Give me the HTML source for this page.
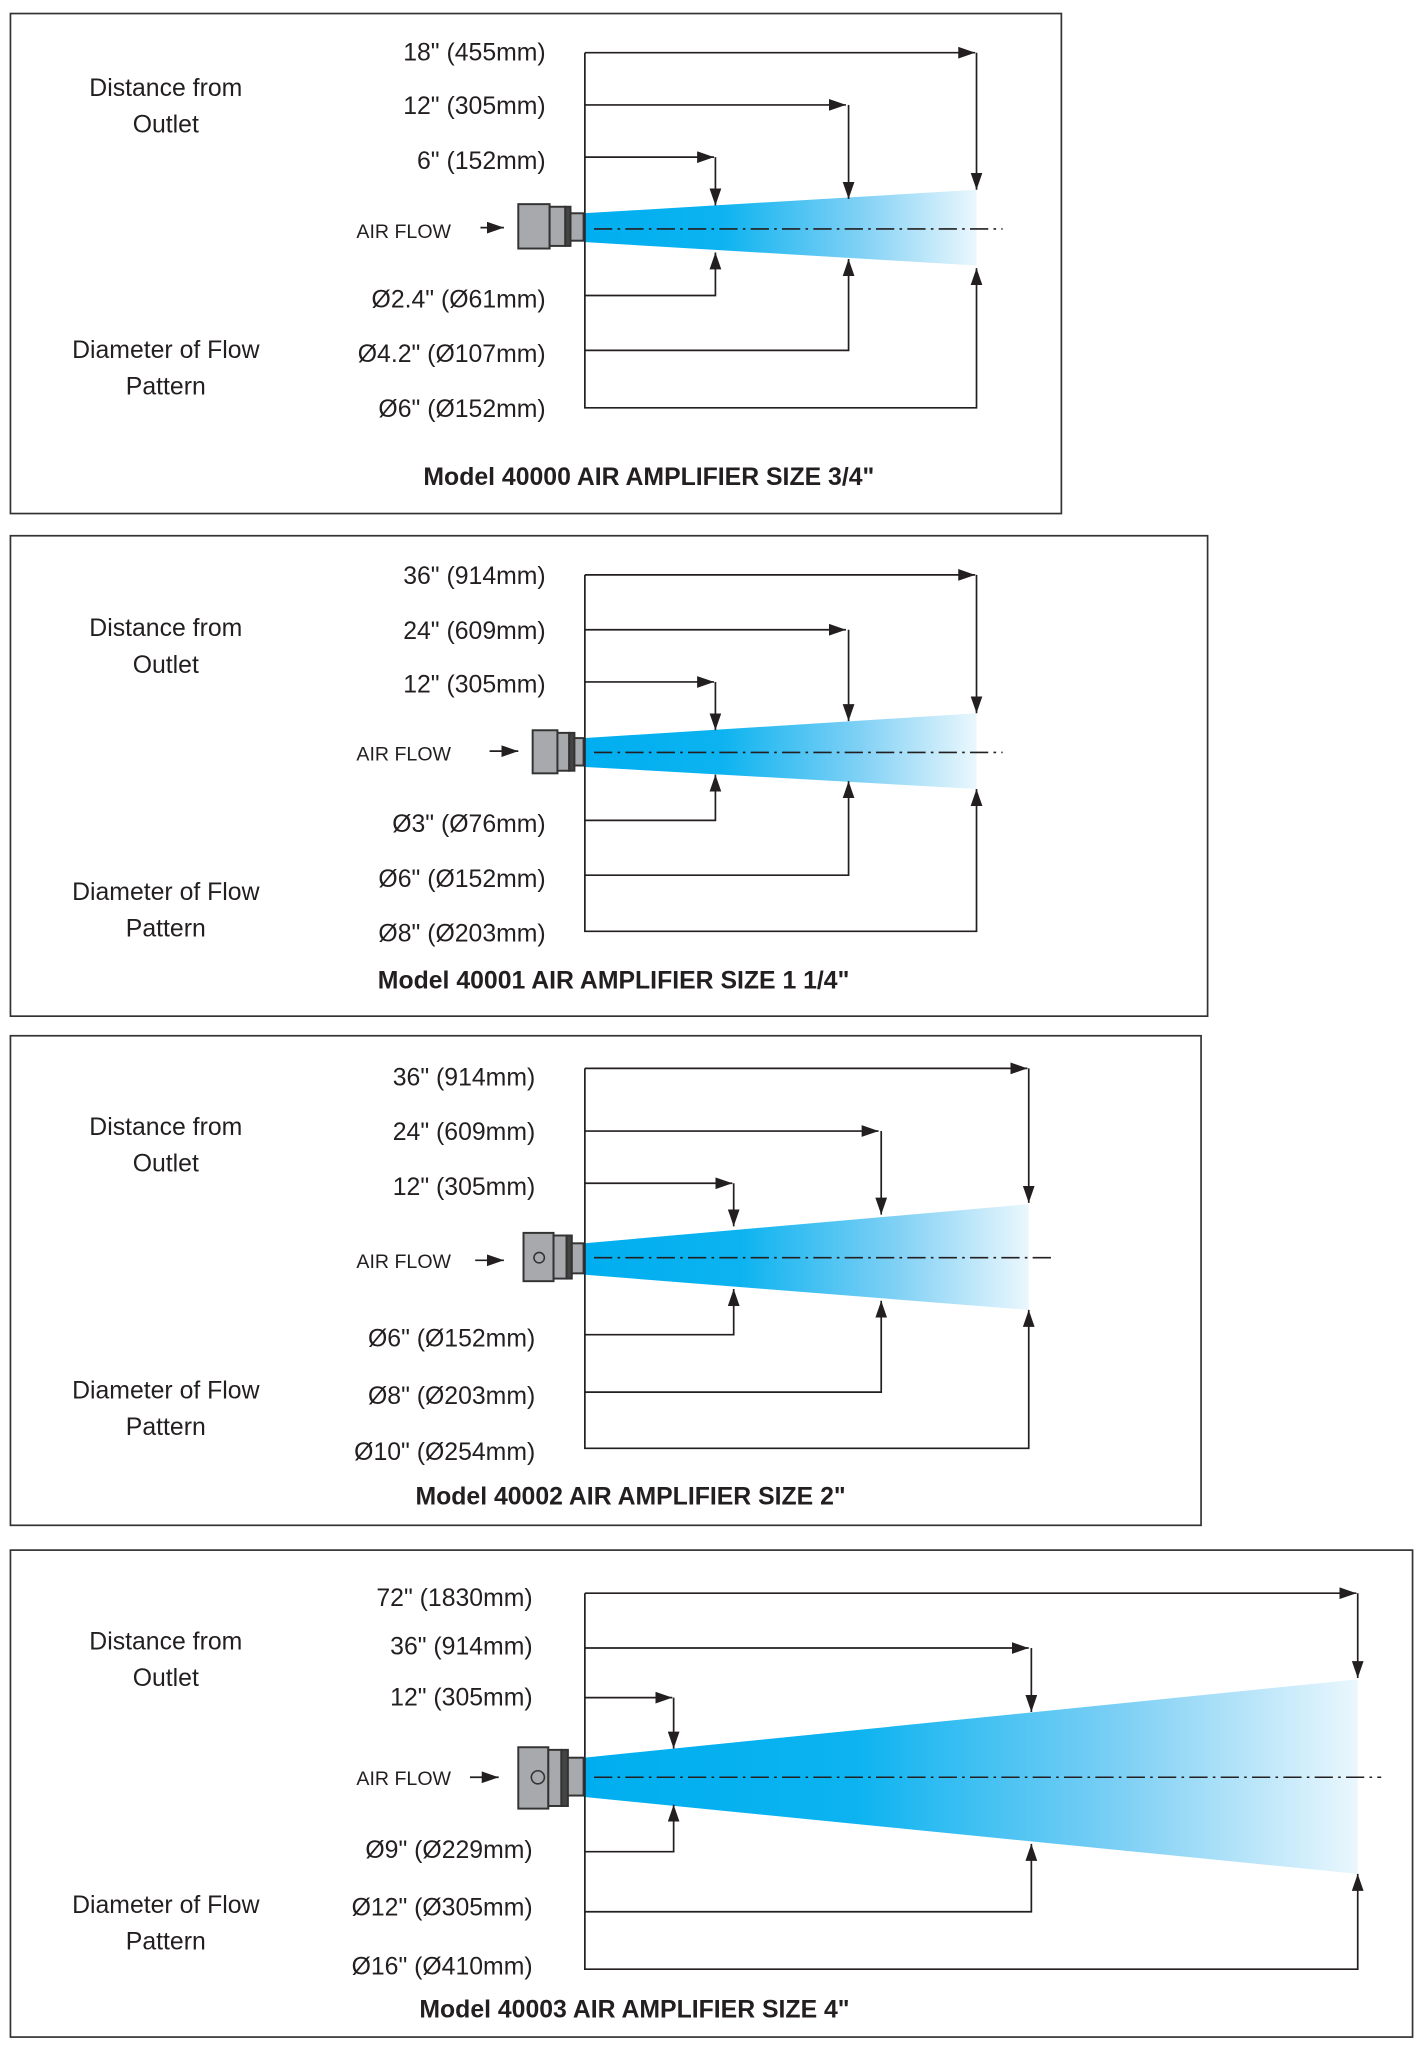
<!DOCTYPE html>
<html><head><meta charset="utf-8"><style>html,body{margin:0;padding:0;background:#fff}svg{display:block}</style></head>
<body>
<svg width="1423" height="2048" viewBox="0 0 1090 1568" xmlns="http://www.w3.org/2000/svg" font-family="Liberation Sans, sans-serif" fill="#231f20">
<defs>
<marker id="a" markerUnits="userSpaceOnUse" markerWidth="13" markerHeight="9" refX="13" refY="4.5" orient="auto"><path d="M0,0 L13,4.5 L0,9 z" fill="#231f20"/></marker>
<linearGradient id="g" x1="0" y1="0" x2="1" y2="0"><stop offset="0" stop-color="#00aeef"/><stop offset="0.35" stop-color="#0cb3f0"/><stop offset="0.7" stop-color="#7fd0f5"/><stop offset="1" stop-color="#eaf7fd"/></linearGradient>
</defs>
<g fill="none" stroke="#333" stroke-width="1.3">
<rect x="8" y="10" width="805" height="383"/>
<rect x="8" y="410" width="917" height="368"/>
<rect x="8" y="793" width="912" height="375"/>
<rect x="8" y="1187" width="1074" height="373"/>
</g>
<!-- beams -->
<polygon points="447,163 748,145 748,203 447,185" fill="url(#g)"/>
<polygon points="447,565 748,546 748,604 447,587" fill="url(#g)"/>
<polygon points="447,952 788,922 788,1003 447,976" fill="url(#g)"/>
<polygon points="447,1346 1040,1286 1040,1435 447,1376" fill="url(#g)"/>
<!-- centerlines -->
<g stroke="#231f20" stroke-width="1.2" stroke-dasharray="14,4,2,4" fill="none">
<path d="M455 175 H768"/><path d="M455 576 H768"/><path d="M455 963 H808"/><path d="M455 1361 H1058"/>
</g>
<!-- dimension lines -->
<g stroke="#231f20" stroke-width="1.3" fill="none">
<path d="M448 40 V312 H748 V205" marker-end="url(#a)"/>
<path d="M448 40 H747" marker-end="url(#a)"/><path d="M748 40 V145" marker-end="url(#a)"/>
<path d="M448 80 H648" marker-end="url(#a)"/><path d="M650 80 V152" marker-end="url(#a)"/>
<path d="M448 120 H547" marker-end="url(#a)"/><path d="M548 120 V157" marker-end="url(#a)"/>
<path d="M448 226 H548 V193" marker-end="url(#a)"/>
<path d="M448 268 H650 V198" marker-end="url(#a)"/>

<path d="M448 440 V713 H748 V604" marker-end="url(#a)"/>
<path d="M448 440 H747" marker-end="url(#a)"/><path d="M748 440 V546" marker-end="url(#a)"/>
<path d="M448 482 H648" marker-end="url(#a)"/><path d="M650 482 V552" marker-end="url(#a)"/>
<path d="M448 522 H547" marker-end="url(#a)"/><path d="M548 522 V559" marker-end="url(#a)"/>
<path d="M448 628 H548 V593" marker-end="url(#a)"/>
<path d="M448 670 H650 V598" marker-end="url(#a)"/>

<path d="M448 818 V1109 H788 V1003" marker-end="url(#a)"/>
<path d="M448 818 H787" marker-end="url(#a)"/><path d="M788 818 V921" marker-end="url(#a)"/>
<path d="M448 866 H673" marker-end="url(#a)"/><path d="M675 866 V930" marker-end="url(#a)"/>
<path d="M448 906 H561" marker-end="url(#a)"/><path d="M562 906 V939" marker-end="url(#a)"/>
<path d="M448 1022 H562 V987" marker-end="url(#a)"/>
<path d="M448 1066 H675 V996" marker-end="url(#a)"/>

<path d="M448 1220 V1508 H1040 V1435" marker-end="url(#a)"/>
<path d="M448 1220 H1039" marker-end="url(#a)"/><path d="M1040 1220 V1285" marker-end="url(#a)"/>
<path d="M448 1262 H788" marker-end="url(#a)"/><path d="M790 1262 V1311" marker-end="url(#a)"/>
<path d="M448 1300 H515" marker-end="url(#a)"/><path d="M516 1300 V1339" marker-end="url(#a)"/>
<path d="M448 1418 H516 V1382" marker-end="url(#a)"/>
<path d="M448 1464 H790 V1412" marker-end="url(#a)"/>

<path d="M368 174 H386" marker-end="url(#a)"/>
<path d="M375 575 H397" marker-end="url(#a)"/>
<path d="M364 965 H386" marker-end="url(#a)"/>
<path d="M360 1361 H382" marker-end="url(#a)"/>
</g>
<!-- nozzles -->
<g stroke="#333" stroke-width="1.5" fill="#a7a9ac">
<rect x="397" y="156" width="24" height="34"/><rect x="421" y="158" width="12" height="30"/><rect x="433" y="158" width="4" height="30" fill="#444"/><rect x="437" y="163" width="10" height="21"/>
<rect x="408" y="559" width="19" height="33"/><rect x="427" y="561" width="9" height="29"/><rect x="436" y="561" width="4" height="29" fill="#444"/><rect x="440" y="565" width="7" height="21"/>
<rect x="401" y="944" width="23" height="37"/><rect x="424" y="946" width="10" height="33"/><rect x="434" y="946" width="4" height="33" fill="#444"/><rect x="438" y="952" width="9" height="23"/>
<rect x="397" y="1338" width="23" height="47"/><rect x="420" y="1340" width="10" height="43"/><rect x="430" y="1340" width="5" height="43" fill="#444"/><rect x="435" y="1346" width="12" height="29"/>
</g>
<g stroke="#333" stroke-width="1.2" fill="none">
<circle cx="413" cy="963" r="4"/><circle cx="412" cy="1361" r="5"/>
</g>
<!-- texts -->
<g font-size="19" text-anchor="end">
<text x="418" y="46">18" (455mm)</text><text x="418" y="87">12" (305mm)</text><text x="418" y="129">6" (152mm)</text>
<text x="418" y="235">Ø2.4" (Ø61mm)</text><text x="418" y="277">Ø4.2" (Ø107mm)</text><text x="418" y="319">Ø6" (Ø152mm)</text>
<text x="418" y="447">36" (914mm)</text><text x="418" y="489">24" (609mm)</text><text x="418" y="530">12" (305mm)</text>
<text x="418" y="637">Ø3" (Ø76mm)</text><text x="418" y="679">Ø6" (Ø152mm)</text><text x="418" y="721">Ø8" (Ø203mm)</text>
<text x="410" y="831">36" (914mm)</text><text x="410" y="873">24" (609mm)</text><text x="410" y="915">12" (305mm)</text>
<text x="410" y="1031">Ø6" (Ø152mm)</text><text x="410" y="1075">Ø8" (Ø203mm)</text><text x="410" y="1118">Ø10" (Ø254mm)</text>
<text x="408" y="1230">72" (1830mm)</text><text x="408" y="1267">36" (914mm)</text><text x="408" y="1306">12" (305mm)</text>
<text x="408" y="1423">Ø9" (Ø229mm)</text><text x="408" y="1467">Ø12" (Ø305mm)</text><text x="408" y="1512">Ø16" (Ø410mm)</text>
</g>
<g font-size="19" text-anchor="middle">
<text x="127" y="73">Distance from</text><text x="127" y="101">Outlet</text>
<text x="127" y="274">Diameter of Flow</text><text x="127" y="302">Pattern</text>
<text x="127" y="487">Distance from</text><text x="127" y="515">Outlet</text>
<text x="127" y="689">Diameter of Flow</text><text x="127" y="717">Pattern</text>
<text x="127" y="869">Distance from</text><text x="127" y="897">Outlet</text>
<text x="127" y="1071">Diameter of Flow</text><text x="127" y="1099">Pattern</text>
<text x="127" y="1263">Distance from</text><text x="127" y="1291">Outlet</text>
<text x="127" y="1465">Diameter of Flow</text><text x="127" y="1493">Pattern</text>
</g>
<g font-size="15">
<text x="273" y="182">AIR FLOW</text><text x="273" y="582">AIR FLOW</text><text x="273" y="971">AIR FLOW</text><text x="273" y="1367">AIR FLOW</text>
</g>
<g font-size="19" font-weight="bold" text-anchor="middle">
<text x="497" y="371">Model 40000 AIR AMPLIFIER SIZE 3/4"</text>
<text x="470" y="757">Model 40001 AIR AMPLIFIER SIZE 1 1/4"</text>
<text x="483" y="1152">Model 40002 AIR AMPLIFIER SIZE 2"</text>
<text x="486" y="1545">Model 40003 AIR AMPLIFIER SIZE 4"</text>
</g>
</svg>
</body></html>
